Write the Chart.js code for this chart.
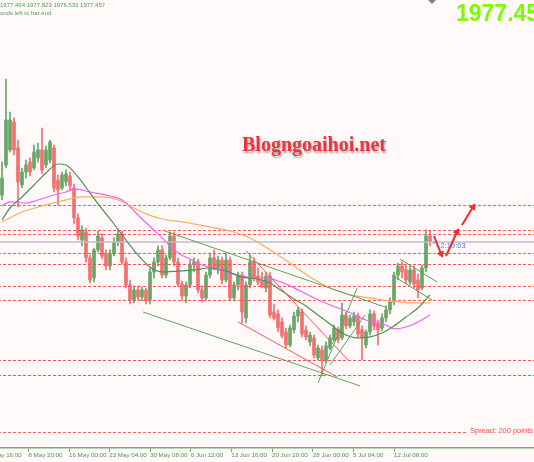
<!DOCTYPE html>
<html>
<head>
<meta charset="utf-8">
<script src="https://cdn.jsdelivr.net/npm/chart.js@4.4.0/dist/chart.umd.min.js"></script>
<style>
  html, body { margin: 0; padding: 0; background: #fffaf9; }
  canvas { display: block; }
</style>
</head>
<body>
<canvas id="myChart" width="534" height="462"></canvas>
<script>
// XAUUSD candles (one column = one candle)
var open = [2006.8, 2025.6, 2035.0, 2052.5, 2036.2, 2013.1, 2021.2, 2027.4, 2023.7, 2030.0,
            2035.0, 2025.6, 2028.7, 2036.2, 2016.2, 2011.2, 2015.0, 2018.7, 2011.2, 1992.5,
            1978.7, 1983.7, 1967.5, 1955.0, 1972.5, 1980.0, 1970.0, 1962.5, 1970.0, 1977.5,
            1982.5, 1965.0, 1950.6, 1941.2, 1947.5, 1943.1, 1947.5, 1941.2, 1958.7, 1965.0,
            1972.5, 1956.8, 1967.5, 1981.2, 1965.0, 1951.2, 1943.7, 1950.6, 1963.1, 1965.0,
            1947.5, 1942.5, 1956.8, 1967.5, 1961.2, 1966.2, 1953.7, 1966.2, 1942.5, 1950.6,
            1956.8, 1930.0, 1950.6, 1965.0, 1956.2, 1953.7, 1948.7, 1956.2, 1933.7, 1932.5,
            1927.5, 1921.2, 1913.1, 1922.5, 1931.2, 1933.7, 1922.5, 1915.0, 1917.5, 1905.0,
            1910.0, 1903.7, 1911.2, 1916.2, 1922.5, 1917.5, 1931.8, 1925.0, 1927.5, 1931.2,
            1922.5, 1913.1, 1921.2, 1932.5, 1926.2, 1923.7, 1930.0, 1935.0, 1940.0, 1956.8,
            1962.5, 1960.0, 1952.5, 1960.0, 1953.7, 1948.7, 1961.2, 1981.2, 1977.46];
var high = [2027.4, 2079.3, 2058.7, 2055.0, 2041.2, 2023.7, 2028.7, 2030.0, 2038.1, 2039.3,
            2048.7, 2037.5, 2041.2, 2038.1, 2019.3, 2021.2, 2022.5, 2021.2, 2013.7, 1995.0,
            1987.5, 1986.2, 1969.3, 1973.7, 1984.3, 1982.5, 1972.5, 1972.5, 1980.0, 1985.6,
            1984.3, 1967.5, 1953.7, 1950.0, 1950.0, 1949.3, 1948.7, 1961.2, 1967.5, 1975.0,
            1975.0, 1969.3, 1983.7, 1983.7, 1967.5, 1953.1, 1952.5, 1966.2, 1967.5, 1966.8,
            1950.0, 1958.7, 1970.6, 1972.5, 1968.7, 1968.1, 1970.6, 1968.1, 1952.5, 1958.7,
            1958.7, 1952.5, 1969.3, 1967.5, 1961.2, 1958.7, 1958.7, 1958.7, 1938.7, 1935.0,
            1930.0, 1923.7, 1925.6, 1933.7, 1936.8, 1935.6, 1925.0, 1921.2, 1919.3, 1913.1,
            1912.5, 1915.0, 1919.3, 1925.6, 1924.3, 1939.3, 1933.7, 1931.8, 1933.7, 1933.1,
            1925.0, 1922.5, 1935.0, 1934.3, 1928.7, 1932.5, 1937.5, 1942.5, 1958.7, 1964.3,
            1965.0, 1963.7, 1962.5, 1962.5, 1957.5, 1963.1, 1985.0, 1984.3, 1977.83];
var low = [2003.7, 2023.7, 2033.7, 2031.8, 1999.3, 2011.2, 2017.4, 2018.7, 2022.5, 2027.4,
           2020.0, 2023.7, 2026.8, 2008.7, 2000.6, 2010.0, 2012.5, 2010.0, 1988.7, 1978.7,
           1975.0, 1965.0, 1951.8, 1952.5, 1971.2, 1966.8, 1960.0, 1960.0, 1968.7, 1975.0,
           1963.7, 1948.7, 1938.7, 1939.3, 1941.2, 1940.6, 1938.7, 1938.7, 1955.0, 1962.5,
           1955.0, 1955.0, 1966.2, 1962.5, 1949.3, 1941.2, 1939.3, 1948.7, 1958.7, 1945.6,
           1940.0, 1941.2, 1955.0, 1960.0, 1957.5, 1951.2, 1952.5, 1941.2, 1940.6, 1947.5,
           1926.8, 1926.8, 1948.7, 1953.1, 1950.6, 1948.7, 1946.2, 1930.0, 1928.7, 1921.2,
           1917.5, 1911.2, 1911.8, 1920.6, 1927.5, 1918.1, 1916.2, 1912.5, 1905.0, 1903.7,
           1893.7, 1901.8, 1910.0, 1915.0, 1914.3, 1916.2, 1923.1, 1923.7, 1925.0, 1918.1,
           1903.7, 1911.2, 1919.3, 1922.5, 1913.1, 1921.8, 1927.5, 1932.5, 1938.1, 1953.7,
           1955.0, 1951.2, 1950.6, 1948.7, 1942.5, 1947.5, 1958.7, 1975.0, 1976.53];
var close = [2017.4, 2053.7, 2053.7, 2035.0, 2015.0, 2021.2, 2025.6, 2021.2, 2033.7, 2035.0,
             2022.5, 2035.0, 2040.0, 2011.2, 2010.0, 2019.3, 2020.0, 2012.5, 1992.5, 1981.2,
             1985.0, 1967.5, 1953.7, 1972.5, 1981.2, 1968.7, 1962.5, 1970.0, 1977.5, 1982.5,
             1965.0, 1950.6, 1941.2, 1947.5, 1943.1, 1947.5, 1941.2, 1958.7, 1965.0, 1972.5,
             1956.8, 1967.5, 1981.2, 1965.0, 1951.2, 1943.7, 1950.6, 1963.1, 1965.0, 1947.5,
             1942.5, 1956.8, 1967.5, 1961.2, 1966.2, 1953.7, 1966.2, 1942.5, 1950.6, 1956.8,
             1933.7, 1950.6, 1965.0, 1955.0, 1952.5, 1950.0, 1956.2, 1931.8, 1930.0, 1923.7,
             1918.7, 1913.1, 1923.7, 1931.2, 1935.0, 1920.0, 1918.1, 1919.3, 1906.8, 1911.2,
             1903.7, 1912.5, 1917.5, 1923.7, 1916.2, 1931.8, 1925.0, 1930.0, 1931.2, 1920.0,
             1917.5, 1921.2, 1932.5, 1925.0, 1922.5, 1930.0, 1935.0, 1940.0, 1956.8, 1962.5,
             1958.7, 1953.7, 1960.0, 1951.2, 1947.5, 1961.2, 1981.2, 1977.5, 1977.46];

// time axis: position (candle index) and text of each label
var tickPos = [-3.6, 6.6, 16.75, 26.8, 37, 47.2, 57.3, 67.5, 77.7, 87.75, 98];
var tickLabels = ['2 May 16:00', '8 May 20:00', '16 May 00:00', '23 May 04:00', '30 May 08:00',
                  '6 Jun 12:00', '13 Jun 16:00', '20 Jun 20:00', '28 Jun 00:00', '5 Jul 04:00', '12 Jul 08:00'];

// moving averages (dark green fast, magenta mid, orange slow)
var ma1Idx = [0, 2, 5, 8, 11, 14, 16, 19, 22, 25, 28, 31, 34, 37, 40, 44, 48, 52, 56, 60,
              64, 67, 70, 73, 76, 79, 82, 85, 89, 92, 95, 98, 101, 104, 107];
var ma1 = [1991.2, 1998.7, 2005.6, 2013.1, 2020.6, 2026.2, 2025.6, 2018.1, 2008.1, 1998.1,
           1988.7, 1978.7, 1969.3, 1961.8, 1958.7, 1959.3, 1960.0, 1961.2, 1959.3, 1955.6,
           1954.3, 1951.8, 1946.8, 1941.8, 1937.5, 1931.8, 1926.2, 1920.6, 1917.5, 1918.1,
           1920.6, 1925.0, 1930.6, 1936.2, 1944.4];
var ma2Idx = [0, 2, 6, 9, 13, 16, 18, 22, 27, 30, 32, 35, 39, 42, 44, 47, 50, 54, 59, 63,
              66, 69, 72, 77, 82, 86, 91, 96, 98, 101, 104, 107];
var ma2 = [2000.0, 2002.5, 2001.8, 2003.7, 2006.8, 2008.7, 2010.6, 2008.7, 2006.2, 2003.7,
           1999.3, 1991.8, 1982.5, 1975.0, 1970.6, 1966.8, 1963.1, 1960.0, 1956.8, 1955.0,
           1955.0, 1953.1, 1950.0, 1943.7, 1938.1, 1934.3, 1928.7, 1925.6, 1923.1, 1924.3,
           1927.5, 1931.8];
var ma3Idx = [0, 5, 10, 15, 20, 25, 29, 33, 36, 40, 45, 52, 57, 62, 67, 72, 77, 82, 87, 92, 97, 102, 107];
var ma3 = [1990.0, 1996.2, 2000.0, 2003.1, 2005.6, 2005.6, 2003.7, 1998.7, 1995.0, 1991.8,
           1990.0, 1986.8, 1984.3, 1980.0, 1972.5, 1964.3, 1955.6, 1948.7, 1944.4, 1942.5,
           1940.6, 1939.4, 1939.4];

// horizontal levels, bid and spread line
var levels = [2000.3, 1984.6, 1982.1, 1970.3, 1963.4, 1949.6, 1940.9, 1903.4, 1894.0];
var bid = 1977.45;
var spreadLevel = 1858.4;

// drawn lines: [x1, price1, x2, price2]
var greenLines = [[35.25, 1933.7, 89.5, 1887.5], [40.75, 1984.3, 95.75, 1936.8],
                  [79, 1889.3, 88.75, 1948.7], [82, 1900.6, 90.75, 1931.8],
                  [99.5, 1966.8, 108.75, 1952.5], [98.25, 1955.6, 107.5, 1941.2]];
var redLines = [[61, 1971.8, 86.5, 1903.7], [59, 1927.5, 83.75, 1893.1]];
var arrows = [[108, 1981.2, 109.75, 1970.0], [111, 1968.7, 113.75, 1983.7], [115, 1988.1, 117.75, 1999.3]];

var upColor = 'rgb(104,166,104)';
var downColor = 'rgb(244,112,112)';
function candleColor(ctx) {
    var i = ctx.dataIndex;
    return close[i] >= open[i] ? upColor : downColor;
}

function pairs(xs, ys) {
    return xs.map(function (x, i) { return { x: x, y: ys[i] }; });
}
function segment(s) {
    return [{ x: s[0], y: s[1] }, { x: s[2], y: s[3] }];
}

var datasets = [];

// candles: wick and body as floating bars
datasets.push({
    type: 'bar',
    data: open.map(function (o, i) { return { x: i, y: [low[i], high[i]] }; }),
    backgroundColor: candleColor,
    barThickness: 1,
    grouped: false,
    order: 50
});
datasets.push({
    type: 'bar',
    data: open.map(function (o, i) { return { x: i, y: [o, close[i]] }; }),
    backgroundColor: candleColor,
    barThickness: 3,
    grouped: false,
    order: 40
});

levels.forEach(function (v) {
    datasets.push({
        type: 'line',
        data: [{ x: -1, y: v }, { x: 140, y: v }],
        borderColor: 'rgb(250,80,80)',
        borderWidth: 1,
        borderDash: [3, 2],
        pointRadius: 0,
        order: 30
    });
});
datasets.push({
    type: 'line',
    data: [{ x: -1, y: spreadLevel }, { x: 116.5, y: spreadLevel }],
    borderColor: 'rgb(250,90,90)',
    borderWidth: 1,
    borderDash: [3, 2],
    pointRadius: 0,
    order: 30
});
datasets.push({
    type: 'line',
    data: [{ x: -1, y: bid }, { x: 140, y: bid }],
    borderColor: 'rgb(190,190,202)',
    borderWidth: 1.5,
    pointRadius: 0,
    order: 30
});

// moving averages
[[ma1Idx, ma1, 'rgb(80,145,80)'], [ma2Idx, ma2, 'rgb(240,100,240)'], [ma3Idx, ma3, 'rgb(255,172,95)']].forEach(function (m) {
    datasets.push({
        type: 'line',
        data: pairs(m[0], m[1]),
        borderColor: m[2],
        borderWidth: 1.2,
        pointRadius: 0,
        cubicInterpolationMode: 'monotone',
        order: 20
    });
});

greenLines.forEach(function (s) {
    datasets.push({ type: 'line', data: segment(s), borderColor: 'rgb(90,165,90)', borderWidth: 1, pointRadius: 0, order: 15 });
});
redLines.forEach(function (s) {
    datasets.push({ type: 'line', data: segment(s), borderColor: 'rgb(245,90,90)', borderWidth: 1, pointRadius: 0, order: 15 });
});
arrows.forEach(function (s) {
    datasets.push({
        type: 'line',
        data: segment(s),
        borderColor: 'rgb(240,45,45)',
        backgroundColor: 'rgb(240,45,45)',
        borderWidth: 2,
        pointRadius: [0, 3.5],
        pointStyle: 'triangle',
        pointBorderWidth: 1,
        rotation: function (ctx) {
            var sc = ctx.chart.scales, d = ctx.dataset.data;
            var dx = sc.x.getPixelForValue(d[1].x) - sc.x.getPixelForValue(d[0].x);
            var dy = sc.y.getPixelForValue(d[1].y) - sc.y.getPixelForValue(d[0].y);
            return Math.atan2(dx, -dy) * 180 / Math.PI;
        },
        order: 5
    });
});

var chartText = {
    id: 'chartText',
    beforeDraw: function (chart) {
        var c = chart.ctx;
        c.save();
        c.fillStyle = '#fffaf9';
        c.fillRect(0, 0, chart.width, chart.height);
        c.restore();
    },
    beforeDatasetsDraw: function (chart) {
        var c = chart.ctx;
        c.save();
        c.fillStyle = 'rgb(95,115,230)';
        c.font = '7.5px "Liberation Sans"';
        c.textBaseline = 'middle';
        c.fillText('- 2:19:03', 436, 246);
        c.fillStyle = 'rgb(255,70,70)';
        c.font = '7.5px "Liberation Sans"';
        c.fillText('Spread: 200 points', 470, 431);
        c.restore();
    },
    afterDraw: function (chart) {
        var c = chart.ctx;
        c.save();
        c.textBaseline = 'middle';
        c.fillStyle = 'rgb(80,160,80)';
        c.font = '6px "Liberation Sans"';
        c.fillText('1977.464 1977.829 1976.533 1977.457', 0, 5);
        c.fillText('onds left to bar end', 0, 13.5);

        c.textBaseline = 'alphabetic';
        c.fillStyle = '#7cfc00';
        c.font = 'bold 23px "Liberation Sans"';
        c.fillText('1977.45', 456, 21);

        c.fillStyle = 'rgb(128,132,145)';
        c.beginPath();
        c.moveTo(428, 0); c.lineTo(436, 0); c.lineTo(432, 4); c.closePath();
        c.fill();

        c.font = 'bold 20px "Liberation Serif"';
        c.shadowColor = 'rgba(60,60,60,0.45)';
        c.shadowOffsetX = 1;
        c.shadowOffsetY = 2;
        c.shadowBlur = 2;
        c.fillStyle = 'rgb(236,52,62)';
        c.fillText('Blogngoaihoi.net', 242, 151);
        c.restore();
    }
};

var ctx = document.getElementById('myChart').getContext('2d');
var chart = new Chart(ctx, {
    type: 'bar',
    data: { datasets: datasets },
    options: {
        responsive: false,
        animation: false,
        events: [],
        devicePixelRatio: 1,
        layout: { padding: 0, autoPadding: false },
        plugins: { legend: { display: false }, tooltip: { enabled: false } },
        scales: {
            x: {
                type: 'linear',
                min: -0.5,
                max: 133,
                bounds: 'data',
                offset: false,
                grid: { display: true, offset: false, drawOnChartArea: false, drawTicks: true, tickLength: 4, color: 'rgb(110,180,110)' },
                border: { display: true, color: 'rgb(110,180,110)', width: 1.5 },
                ticks: {
                    autoSkip: false, maxRotation: 0, minRotation: 0, align: 'start', padding: 0,
                    color: 'rgb(80,145,80)',
                    font: { family: 'Liberation Sans', size: 6.2 },
                    callback: function (v, i) { return tickLabels[i]; }
                },
                afterBuildTicks: function (s) {
                    s.ticks = tickPos.map(function (v) { return { value: v }; });
                },
                afterFit: function (s) {
                    s.height = 14;
                    s.paddingLeft = 0;
                    s.paddingRight = 0;
                }
            },
            y: { display: false, min: 1848.7, max: 2128.7, bounds: 'data' }
        }
    },
    plugins: [chartText]
});
</script>
</body>
</html>
